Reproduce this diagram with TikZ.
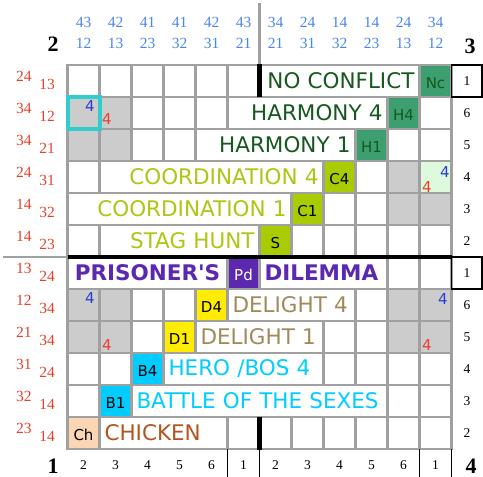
\documentclass[tikz,border=0pt]{standalone}
\usepackage{fontspec}
\setmainfont{Liberation Serif}
\newfontfamily\cellfont{DejaVu Sans}
\definecolor{gridgray}{RGB}{160,160,160}
\definecolor{cellgray}{RGB}{204,204,204}
\definecolor{hgfill}{RGB}{61,158,112}
\definecolor{dgtext}{RGB}{22,88,30}
\definecolor{ygtext}{RGB}{168,200,20}
\definecolor{ygfill}{RGB}{168,204,0}
\definecolor{pdcol}{RGB}{92,40,176}
\definecolor{tantext}{RGB}{160,138,90}
\definecolor{yfill}{RGB}{255,236,0}
\definecolor{cyancol}{RGB}{0,204,255}
\definecolor{browntext}{RGB}{180,84,30}
\definecolor{peach}{RGB}{252,213,180}
\definecolor{lgfill}{RGB}{221,250,221}
\definecolor{hlcyan}{RGB}{51,204,204}
\definecolor{hdrblue}{RGB}{74,134,232}
\definecolor{lblred}{RGB}{232,64,42}
\definecolor{fourblue}{RGB}{40,60,210}
\tikzset{
  cellbox/.style={draw=gridgray, line width=2.5pt, minimum height=32pt, inner xsep=5pt, inner ysep=0pt,
    outer sep=0pt, anchor=north west, fill=white, align=center, font=\cellfont\fontsize{21.5}{23}\selectfont},
  gray/.style={fill=cellgray},
  rt/.style={align=right},
  lt/.style={align=left},
  sm/.style={font=\cellfont\fontsize{15}{17}\selectfont, text height=14.5pt, text depth=0pt},
  boldlbl/.style={text=pdcol, font=\cellfont\bfseries\fontsize{21.5}{23}\selectfont},
  hdr/.style={text=hdrblue, font=\fontsize{15.5}{17}\selectfont, inner sep=0pt},
  lft/.style={text=lblred, font=\fontsize{15.5}{17}\selectfont, inner sep=0pt},
  rlab/.style={font=\fontsize{13.5}{15}\selectfont, inner sep=0pt},
  onebox/.style={draw=black, line width=1.5pt, minimum width=30.5pt, minimum height=32pt},
  big/.style={font=\bfseries\fontsize{22}{24}\selectfont, inner sep=0pt},
  bfour/.style={text=fourblue, font=\cellfont\fontsize{15}{17}\selectfont, inner sep=0pt},
  rfour/.style={text=lblred, font=\cellfont\fontsize{15}{17}\selectfont, inner sep=0pt},
  thickline/.style={line width=4.5pt, black},
  thinline/.style={line width=1.5pt, black},
}
\newcommand\gc[6]{%
  \pgfmathsetlengthmacro\gctw{32*#4-10}%
  \node[cellbox,text width=\gctw,#5] (#1) at ({67.5+32*(#2-1)},{65+32*(#3-1)}) {#6};}
\begin{document}
\begin{tikzpicture}[x=1pt,y=-1pt]
\useasboundingbox (0,0) rectangle (483,477);
% row 1
\foreach \c in {1,...,6} {\gc{r1c\c}{\c}{1}{1}{}{}}
\gc{r1c7}{7}{1}{5}{rt,text=dgtext}{NO CONFLICT}
\gc{r1c12}{12}{1}{1}{sm,fill=hgfill,text=dgtext}{Nc}
% row 2
\gc{r2c1}{1}{2}{1}{gray}{}
\gc{r2c2}{2}{2}{1}{gray}{}
\foreach \c in {3,4,5} {\gc{r2c\c}{\c}{2}{1}{}{}}
\gc{r2c6}{6}{2}{5}{rt,text=dgtext}{HARMONY 4}
\gc{r2c11}{11}{2}{1}{sm,fill=hgfill,text=dgtext}{H4}
\gc{r2c12}{12}{2}{1}{}{}
% row 3
\gc{r3c1}{1}{3}{1}{gray}{}
\gc{r3c2}{2}{3}{1}{gray}{}
\foreach \c in {3,4} {\gc{r3c\c}{\c}{3}{1}{}{}}
\gc{r3c5}{5}{3}{5}{rt,text=dgtext}{HARMONY 1}
\gc{r3c10}{10}{3}{1}{sm,fill=hgfill,text=dgtext}{H1}
\foreach \c in {11,12} {\gc{r3c\c}{\c}{3}{1}{}{}}
% row 4
\gc{r4c1}{1}{4}{1}{}{}
\gc{r4c2}{2}{4}{7}{rt,text=ygtext}{COORDINATION 4}
\gc{r4c9}{9}{4}{1}{sm,fill=ygfill,text=black}{C4}
\gc{r4c10}{10}{4}{1}{}{}
\gc{r4c11}{11}{4}{1}{gray}{}
\gc{r4c12}{12}{4}{1}{fill=lgfill}{}
% row 5
\gc{r5c1}{1}{5}{7}{rt,text=ygtext}{COORDINATION 1}
\gc{r5c8}{8}{5}{1}{sm,fill=ygfill,text=black}{C1}
\foreach \c in {9,10} {\gc{r5c\c}{\c}{5}{1}{}{}}
\foreach \c in {11,12} {\gc{r5c\c}{\c}{5}{1}{gray}{}}
% row 6
\gc{r6c1}{1}{6}{1}{}{}
\gc{r6c2}{2}{6}{5}{rt,text=ygtext}{STAG HUNT}
\gc{r6c7}{7}{6}{1}{sm,fill=ygfill,text=black}{S}
\foreach \c in {8,...,12} {\gc{r6c\c}{\c}{6}{1}{}{}}
% row 7
\gc{r7c1}{1}{7}{5}{boldlbl}{PRISONER'S}
\gc{r7c6}{6}{7}{1}{sm,fill=pdcol,text=white}{Pd}
\gc{r7c7}{7}{7}{4}{lt,boldlbl}{DILEMMA}
\foreach \c in {11,12} {\gc{r7c\c}{\c}{7}{1}{}{}}
% row 8
\foreach \c in {1,2} {\gc{r8c\c}{\c}{8}{1}{gray}{}}
\foreach \c in {3,4} {\gc{r8c\c}{\c}{8}{1}{}{}}
\gc{r8c5}{5}{8}{1}{sm,fill=yfill,text=black}{D4}
\gc{r8c6}{6}{8}{4}{lt,text=tantext}{DELIGHT 4}
\gc{r8c10}{10}{8}{1}{}{}
\foreach \c in {11,12} {\gc{r8c\c}{\c}{8}{1}{gray}{}}
% row 9
\foreach \c in {1,2} {\gc{r9c\c}{\c}{9}{1}{gray}{}}
\gc{r9c3}{3}{9}{1}{}{}
\gc{r9c4}{4}{9}{1}{sm,fill=yfill,text=black}{D1}
\gc{r9c5}{5}{9}{4}{lt,text=tantext}{DELIGHT 1}
\foreach \c in {9,10} {\gc{r9c\c}{\c}{9}{1}{}{}}
\foreach \c in {11,12} {\gc{r9c\c}{\c}{9}{1}{gray}{}}
% row 10
\foreach \c in {1,2} {\gc{r10c\c}{\c}{10}{1}{}{}}
\gc{r10c3}{3}{10}{1}{sm,fill=cyancol,text=black}{B4}
\gc{r10c4}{4}{10}{5}{lt,text=cyancol}{HERO /BOS 4}
\foreach \c in {9,...,12} {\gc{r10c\c}{\c}{10}{1}{}{}}
% row 11
\gc{r11c1}{1}{11}{1}{}{}
\gc{r11c2}{2}{11}{1}{sm,fill=cyancol,text=black}{B1}
\gc{r11c3}{3}{11}{8}{lt,text=cyancol}{BATTLE OF THE SEXES}
\foreach \c in {11,12} {\gc{r11c\c}{\c}{11}{1}{}{}}
% row 12
\gc{r12c1}{1}{12}{1}{sm,fill=peach,text=black}{Ch}
\gc{r12c2}{2}{12}{4}{lt,text=browntext}{CHICKEN}
\foreach \c in {6,...,12} {\gc{r12c\c}{\c}{12}{1}{}{}}
% small fours
\node[bfour] (f1) at (90,106) {4};
\node[rfour] (f2) at (107,119) {4};
\node[bfour] (f3) at (445,172) {4};
\node[rfour] (f4) at (427,187) {4};
\node[bfour] (f5) at (90,298) {4};
\node[rfour] (f6) at (107,345) {4};
\node[bfour] (f7) at (443,299) {4};
\node[rfour] (f8) at (427,345) {4};
% highlight
\draw[hlcyan, line width=4pt] (r2c1.north west) rectangle (r2c1.south east);
% header numbers
\foreach \t/\b [count=\i] in {43/12,42/13,41/23,41/32,42/31,43/21,34/21,24/31,14/32,14/23,24/13,34/12} {
  \node[hdr] (ht\i) at ({51.5+32*\i},22) {\t};
  \node[hdr] (hb\i) at ({51.5+32*\i},43) {\b};
}
% left labels
\foreach \a/\b [count=\i] in {24/13,34/12,34/21,24/31,14/32,14/23,13/24,12/34,21/34,31/24,32/14,23/14} {
  \node[lft] (la\i) at (24,{49+32*\i-5}) {\a};
  \node[lft] (lb\i) at (47,{49+32*\i+3}) {\b};
}
% right labels
\foreach \n [count=\i] in {1,6,5,4,3,2,1,6,5,4,3,2} {
  \node[rlab] (rl\i) at (467,{49+32*\i}) {\n};
}
\node[onebox] (box1) at (466.75,81) {};
\node[onebox] (box7) at (466.75,273) {};
% bottom labels
\foreach \n [count=\i] in {2,3,4,5,6,1,2,3,4,5,6,1} {
  \node[rlab] (bl\i) at ({51.5+32*\i},465) {\n};
}
% corner numbers
\node[big] (n2) at (53,44) {2};
\node[big] (n3) at (470,46) {3};
\node[big] (n1) at (53,466) {1};
\node[big] (n4) at (471,466) {4};
% separator lines
\draw[gridgray, line width=2.5pt] (259.5,3) -- (r1c7.north west);
\draw[gridgray, line width=2.5pt] (3,257) -- (r7c1.north west);
\draw[thickline] (r7c1.north west) -- (r7c12.north east);
\draw[thickline] ([yshift=1pt]r1c7.north west) -- (r1c7.south west);
\draw[thickline] (r12c7.north west) -- ([yshift=-1pt]r12c7.south west);
\draw[thinline] (r12c6.south west) -- ++(0,28);
\draw[thinline] (r12c7.south west) -- ++(0,28);
\draw[thinline] (r12c12.south west) -- ++(0,28);
\draw[thinline] (r12c12.south east) -- ++(0,28);
\end{tikzpicture}
\end{document}
